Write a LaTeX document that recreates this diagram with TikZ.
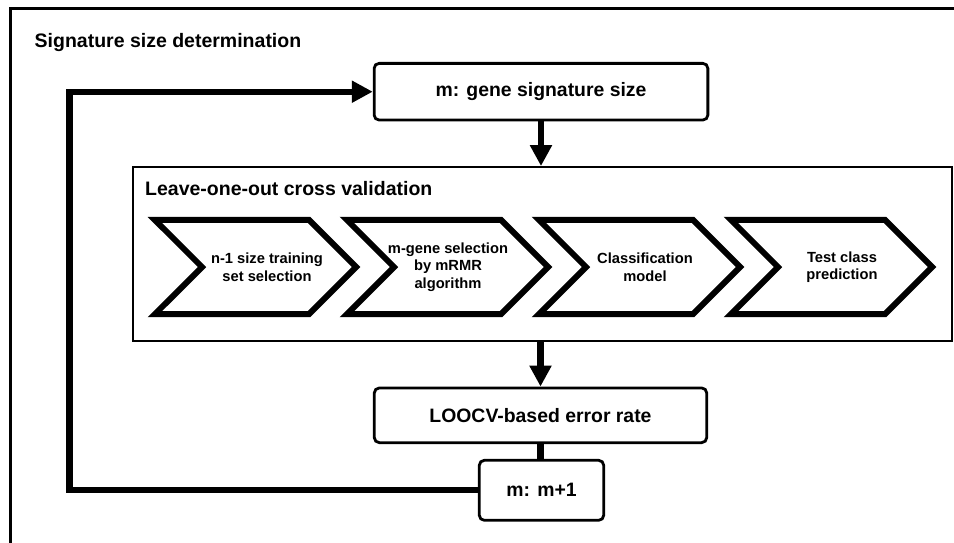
\documentclass[tikz,border=0pt]{standalone}
\usepackage{fontspec}
\setmainfont{Liberation Sans}
\usetikzlibrary{calc,positioning,arrows.meta,shapes.symbols}

\begin{document}
\begin{tikzpicture}[x=1pt, y=-1pt,
box/.style={draw, rounded corners=5pt, line width=2.8pt, inner sep=0pt, font=\fontsize{19.4}{22}\selectfont\bfseries},
chev/.style={draw, signal, signal from=west, signal to=east, signal pointer angle=90, line width=6pt, minimum height=94.4pt, text width=131pt, inner xsep=-12pt, inner ysep=2pt},
chevtext/.style={inner sep=0pt, align=center, font=\fontsize{14.7}{17.5}\selectfont\bfseries},
fat/.style={line width=6.3pt},
fatto/.style={fat, -{Triangle[length=21pt, width=21pt]}}]
\useasboundingbox (0,0) rectangle (954,542);
% outer frame, cut off at the right and bottom
\draw[line width=2.6pt] (10.7,8.7) rectangle (990,580);
\node[anchor=base west, inner sep=0pt, font=\fontsize{19.5}{22}\selectfont\bfseries] (title) at (34.5,47.5) {Signature size determination};
\node[box, minimum width=333.7pt, minimum height=56.7pt] (sig) at (541,91.7) {m: gene signature size};
\node[draw, line width=2pt, minimum width=819.8pt, minimum height=174.3pt] (loo) at (542.4,254.2) {};
\node[anchor=base west, inner sep=0pt, font=\fontsize{19.5}{22}\selectfont\bfseries] (lootitle) at (145,195.3) {Leave-one-out cross validation};
\foreach \n/\x/\d/\t in {1/255.5/11.5/{n-1 size training\\set selection}, 2/447.5/0.5/{m-gene selection\\by mRMR\\algorithm}, 3/639.5/5.5/{Classification\\model}, 4/831.5/10.5/{Test class\\prediction}}{
  \node[chev] (s\n) at (\x,267) {};
  \node[chevtext] (t\n) at ([xshift=\d pt]s\n.center) {\t};
}
\node[box, minimum width=332.4pt, minimum height=54.7pt] (err) at (540.5,415.3) {LOOCV-based error rate};
\node[box, minimum width=124.4pt, minimum height=60pt] (inc) at (541.5,490.3) {m: m+1};
\coordinate (loop) at (69.5,300);
\draw[fatto] (sig.south) -- (sig.south |- loo.north);
\draw[fatto] (loo.south -| err.north) -- (err.north);
\draw[fat] (err.south) -- (err.south |- inc.north);
\draw[fatto] (inc.west) -| (loop) |- (sig.west);
\end{tikzpicture}
\end{document}
